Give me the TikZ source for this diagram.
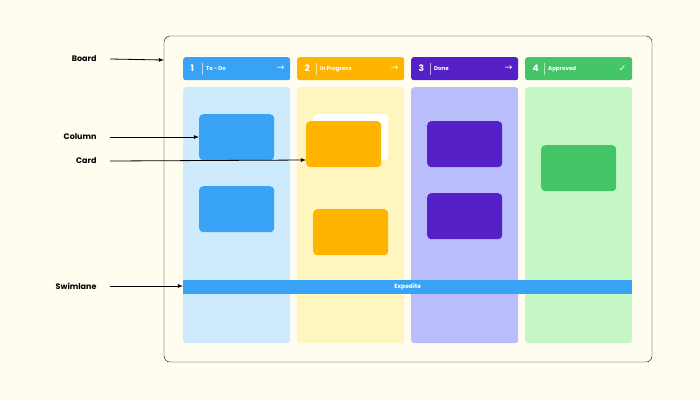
\documentclass[tikz,border=0pt]{standalone}
\usepackage{fontspec}
\setmainfont{Poppins}
\newfontfamily\symfnt{DejaVu Sans}
\begin{document}
\begin{tikzpicture}[x=1pt,y=-1pt,
 lbl/.style={font=\fontsize{8}{9}\selectfont\bfseries,text=black},
 arr/.style={-latex,thick,black},
 hdr/.style={rounded corners=2.5pt,draw=none,anchor=north west,minimum width=107pt,minimum height=23pt,inner sep=0},
 body/.style={rounded corners=3pt,draw=none,anchor=north west,minimum width=107pt,minimum height=256pt,inner sep=0},
 card/.style={rounded corners=4pt,draw=none,anchor=north west,minimum width=75pt,minimum height=46pt,inner sep=0}]
\definecolor{bg}{HTML}{FFFDF0}
\definecolor{cblue}{HTML}{38A3F5}\definecolor{lblue}{HTML}{CDEBFD}
\definecolor{corange}{HTML}{FFB400}\definecolor{lorange}{HTML}{FFF5BE}
\definecolor{cpurple}{HTML}{5520C8}\definecolor{lpurple}{HTML}{BABDFB}
\definecolor{cgreen}{HTML}{44C568}\definecolor{lgreen}{HTML}{C5F7C6}
\fill[bg] (0,0) rectangle (700,400);
\useasboundingbox (0,0) rectangle (700,400);
\draw[rounded corners=6pt,thin] (164,36) rectangle (652,362);
\foreach \x/\c/\l/\n/\t/\s in {183/cblue/lblue/1/To - Do/→,297/corange/lorange/2/In Progress/→,411/cpurple/lpurple/3/Done/→,525/cgreen/lgreen/4/Approved/✓}{
 \node[hdr,fill=\c] (h\n) at (\x,57) {};
 \node[body,fill=\l] (b\n) at (\x,87) {};
 \node[text=white,font=\fontsize{9}{10}\selectfont\bfseries,anchor=west] (hn\n) at (\x+4,68.5) {\n};
 \draw[white,opacity=.6] (\x+19,63) -- (\x+19,75);
 \node[text=white,font=\fontsize{5.5}{6}\selectfont\bfseries,anchor=west,inner sep=0] (ht\n) at (\x+23,69) {\t};
 \node[text=white,font=\symfnt\fontsize{9}{10}\selectfont,anchor=east] (hs\n) at (\x+105,68.5) {\s};
}
\node[card,fill=cblue] (c1) at (199,114) {};
\node[card,fill=cblue] (c2) at (199,186) {};
\node[card,fill=white] (c3w) at (313,114) {};
\node[card,fill=corange] (c3) at (306,121) {};
\node[card,fill=corange] (c4) at (313,209) {};
\node[card,fill=cpurple] (c5) at (427,121) {};
\node[card,fill=cpurple] (c6) at (427,193) {};
\node[card,fill=cgreen] (c7) at (541,145) {};
\node[fill=cblue,anchor=north west,minimum width=449pt,minimum height=14pt,inner sep=0,text=white,font=\fontsize{6}{7}\selectfont\bfseries] (sw) at (183,280) {Expedite};
\node[lbl,anchor=east] (lboard) at (100,59) {Board};
\node[lbl,anchor=east] (lcol) at (100,137) {Column};
\node[lbl,anchor=east] (lcard) at (100,161) {Card};
\node[lbl,anchor=east] (lsw) at (100,286) {Swimlane};
\coordinate (eb) at (164,60);
\coordinate (e1) at (199,137);
\coordinate (e2) at (306,160);
\coordinate (e3) at (183,286);
\draw[arr] ([xshift=10pt]lboard.east) -- (eb);
\draw[arr] ([xshift=10pt]lcol.east) -- (e1);
\draw[arr] ([xshift=10pt]lcard.east) -- (e2);
\draw[arr] ([xshift=10pt]lsw.east) -- (e3);
\end{tikzpicture}
\end{document}
